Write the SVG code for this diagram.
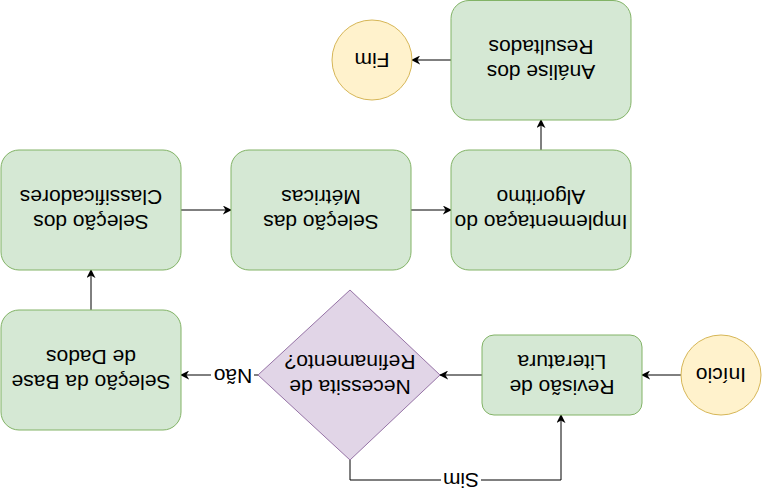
<svg xmlns="http://www.w3.org/2000/svg" width="767" height="499" viewBox="0 0 767 499">
<style>
.g{fill:#d5e8d4;stroke:#82b366;stroke-width:1}
.y{fill:#fff2cc;stroke:#d6b656;stroke-width:1}
.p{fill:#e1d5e7;stroke:#9673a6;stroke-width:1}
text{font-family:"Liberation Sans",Arial,sans-serif;font-size:21px;fill:#000;text-anchor:middle}
.e{fill:none;stroke:#000;stroke-width:1}
</style>
<defs>
<marker id="a" viewBox="0 0 10 10" refX="9" refY="5" markerWidth="9" markerHeight="9" markerUnits="userSpaceOnUse" orient="auto">
<path d="M0,0 L10,5 L0,10 L3,5 z" fill="#000"/>
</marker>
</defs>
<rect width="767" height="499" fill="#fff"/>
<g transform="rotate(180 383.5 249.5)">
<g id="connectors">
<path class="e" d="M86,124 L125,124" marker-end="url(#a)"/>
<path class="e" d="M285,124 L327,124" marker-end="url(#a)"/>
<path class="e" d="M509,124 L586,124" marker-end="url(#a)"/>
<path class="e" d="M417,39 L417,19 L206,19 L206,84" marker-end="url(#a)"/>
<path class="e" d="M676,189 L676,229" marker-end="url(#a)"/>
<path class="e" d="M586,289 L536,289" marker-end="url(#a)"/>
<path class="e" d="M356,289 L316,289" marker-end="url(#a)"/>
<path class="e" d="M226,349 L226,379" marker-end="url(#a)"/>
<path class="e" d="M316,439 L355,439" marker-end="url(#a)"/>
<rect x="286" y="7" width="40" height="24" fill="#fff"/>
<text x="306" y="26.5">Sim</text>
<rect x="513" y="111" width="43" height="24" fill="#fff"/>
<text x="534" y="130.5">Não</text>
</g>
<g id="inicio">
<circle class="y" cx="46" cy="124" r="40"/>
<text x="46" y="131.5">Início</text>
</g>
<g id="revisao">
<rect class="g" x="125" y="84" width="160" height="80" rx="12"/>
<text x="205" y="119">Revisão de</text>
<text x="205" y="144">Literatura</text>
</g>
<g id="decisao">
<polygon class="p" points="417,39 509,124 417,209 327,124"/>
<text x="417" y="119">Necessita de</text>
<text x="417" y="144">Refinamento?</text>
</g>
<g id="base">
<rect class="g" x="586" y="69" width="180" height="120" rx="18"/>
<text x="676" y="124">Seleção da Base</text>
<text x="676" y="149">de Dados</text>
</g>
<g id="classificadores">
<rect class="g" x="586" y="229" width="180" height="120" rx="18"/>
<text x="676" y="284">Seleção dos</text>
<text x="676" y="309">Classificadores</text>
</g>
<g id="metricas">
<rect class="g" x="356" y="229" width="180" height="120" rx="18"/>
<text x="446" y="284">Seleção das</text>
<text x="446" y="309">Métricas</text>
</g>
<g id="implementacao">
<rect class="g" x="136" y="229" width="180" height="120" rx="18"/>
<text x="226" y="284">Implementaçao do</text>
<text x="226" y="309">Algoritmo</text>
</g>
<g id="analise">
<rect class="g" x="136" y="379" width="180" height="119.5" rx="18"/>
<text x="226" y="434">Análise dos</text>
<text x="226" y="459">Resultados</text>
</g>
<g id="fim">
<circle class="y" cx="395" cy="439" r="40"/>
<text x="395" y="446.5">Fim</text>
</g>
</g>
</svg>
